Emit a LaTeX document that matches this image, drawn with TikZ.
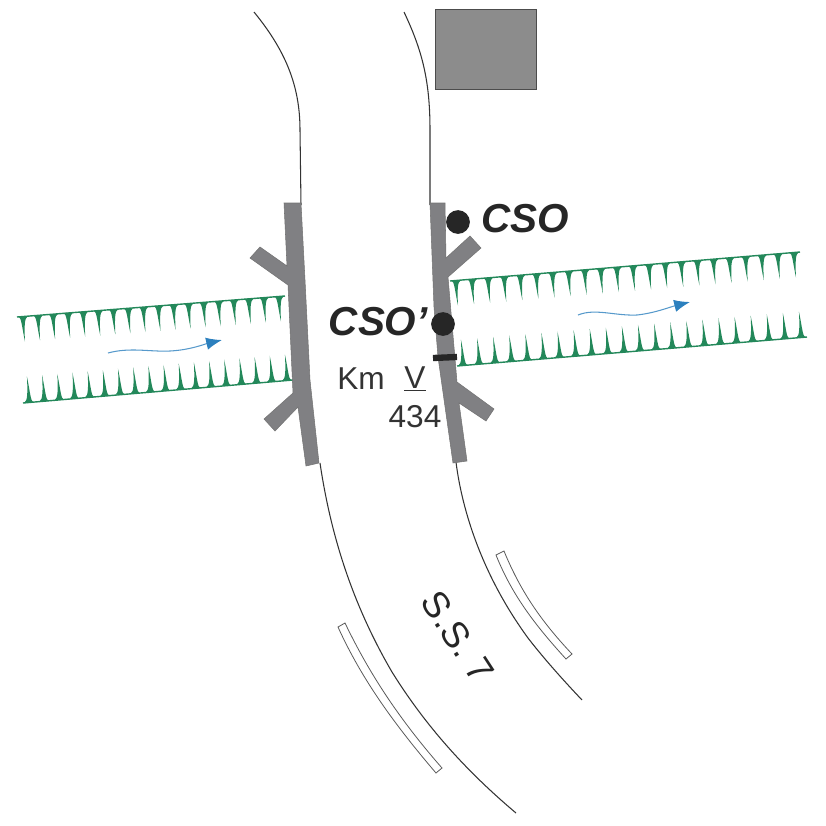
\documentclass[tikz,border=0pt]{standalone}
\usepackage{fontspec}
\setmainfont{Liberation Sans}
\usetikzlibrary{arrows.meta}
\definecolor{deckgray}{HTML}{808083}
\definecolor{hedgegreen}{HTML}{23885A}
\definecolor{flowblue}{HTML}{2C80BE}
\tikzset{
    road/.style={draw=black!80, line width=0.6pt},
    rail/.style={draw=black!65, fill=white, line width=0.45pt},
    deck/.style={draw=black!55, fill=deckgray, line width=0.3pt},
    flow/.style={draw=flowblue!80, line width=0.6pt, -{Latex[length=9pt,width=7pt,color=flowblue]}},
    marker/.style={circle, fill=black!85, inner sep=0pt, minimum size=13.5pt},
    boldlabel/.style={font=\fontsize{23}{26}\selectfont\bfseries\itshape, text=black!85, inner sep=0pt},
    kmlabel/.style={font=\fontsize{18}{21}\selectfont, text=black!80, inner sep=0pt}
}
% one row of teeth: x0, y0, x1, y1, last index, tooth length
\newcommand{\hedgerow}[6]{
    \draw[hedgegreen, line width=0.8pt] (#1,#2) -- (#3,#4);
    \foreach \i in {0,...,#5} {
        \pgfmathsetmacro{\tx}{#1+6+(#3-#1-12)*\i/#5}
        \pgfmathsetmacro{\ty}{#2+(#4-#2)*(6+(#3-#1-12)*\i/#5)/(#3-#1)}
        \fill[hedgegreen] (\tx-4.5,\ty) .. controls (\tx-1.5,\ty+0.05*#6) and (\tx-1.2,\ty+0.4*#6) .. (\tx+0.08*#6,\ty+#6)
            .. controls (\tx+1.2,\ty+0.4*#6) and (\tx+1.5,\ty+0.05*#6) .. (\tx+4.5,\ty) -- cycle;
    }
}

\begin{document}
\begin{tikzpicture}[x=0.02cm, y=-0.02cm]
    \useasboundingbox (0,0) rectangle (826,826);

    % roads
    \draw[road] (254,12) .. controls (285,50) and (300,85) .. (300,130) -- (301,205);
    \draw[road] (320,463) .. controls (330,530) and (350,600) .. (392,672) .. controls (425,725) and (465,770) .. (516,813);
    \draw[road] (404,12) .. controls (422,50) and (430,80) .. (430,130) -- (430,205);
    \draw[road] (456,462) .. controls (462,510) and (482,575) .. (528,638) .. controls (545,660) and (565,682) .. (582,700);

    % guard rails
    \draw[rail] (338,627) -- (345,623) .. controls (370,675) and (400,720) .. (442,768) -- (436,773)
        .. controls (395,725) and (362,680) .. cycle;
    \draw[rail] (496,555) -- (504,551) .. controls (520,590) and (540,620) .. (572,654) -- (566,659)
        .. controls (535,625) and (512,595) .. cycle;

    % building
    \node[draw=black!70, fill=black!45, line width=0.4pt, inner sep=0pt, minimum width=2.02cm, minimum height=1.6cm] (building) at (485.5,49) {};

    % hedges
    \hedgerow{17}{317}{285}{296}{17}{25}
    \hedgerow{23}{403}{293}{380}{17}{-26}
    \hedgerow{450}{281}{800}{252}{21}{25}
    \hedgerow{457}{366}{807}{337}{21}{-26}

    % bridge decks
    \draw[deck] (284,203) -- (301,203) -- (305,280) -- (310,380) -- (319,463) -- (306,466) -- (298,407) -- (275,431) -- (264,419) -- (293,393)
        -- (288,285) -- (250,258) -- (260,247) -- (287,266) -- cycle;
    \draw[deck] (430,203) -- (445,203) -- (446,258) -- (470,236) -- (481,248) -- (448,277) -- (457,382) -- (494,409)
        -- (486,421) -- (459,403) -- (467,461) -- (453,463) -- (438,357) -- (434,307) -- cycle;

    % water
    \draw[flow] (108,353) .. controls (130,347) and (150,352) .. (170,351) .. controls (190,350) and (205,344) .. (222,340);
    \draw[flow] (578,315) .. controls (595,308) and (615,316) .. (637,315) .. controls (655,313) and (670,307) .. (690,302);

    % markers and labels
    \node[marker] (csoa) at (458,222) {};
    \node[marker] (csob) at (443,324) {};
    \draw[black!85, line width=3.6pt] (433,358) -- (457,357);
    \node[boldlabel, anchor=west] (cso) at (481,219) {CSO};
    \node[boldlabel, anchor=east] (csop) at (428,322) {CSO’};
    \node[kmlabel, anchor=base west] (km) at (337,389) {Km};
    \node[kmlabel, anchor=base] (kmv) at (415,388) {\underline{V}};
    \node[kmlabel, anchor=base] (kmn) at (415,427) {434};
    \node[font=\fontsize{21}{24}\selectfont, text=black!85, inner sep=0pt, rotate=-57] (ss) at (458,637) {S.S. 7};
\end{tikzpicture}
\end{document}
